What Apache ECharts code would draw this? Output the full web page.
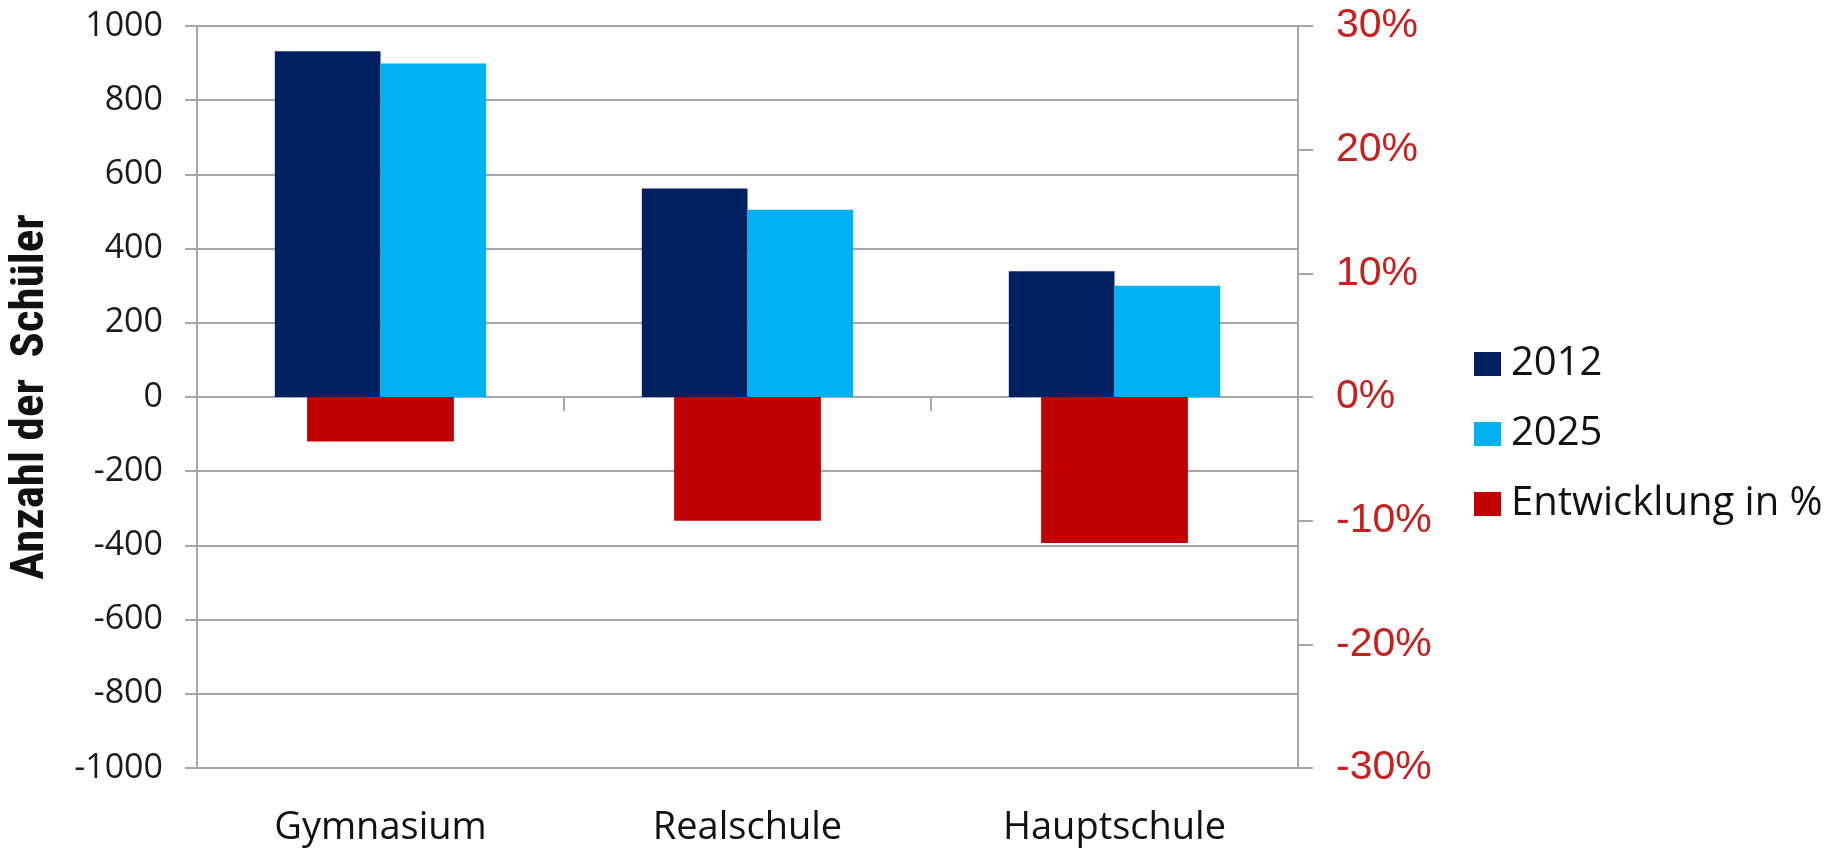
<!DOCTYPE html>
<html>
<head>
<meta charset="utf-8">
<script src="https://cdn.jsdelivr.net/npm/echarts@6/dist/echarts.min.js"></script>
<style>
  html, body { margin: 0; padding: 0; background: #fff; }
  #chart { width: 1839px; height: 849px; }
</style>
</head>
<body>
<div id="chart"></div>
<script>
  // Schularten (Kategorien)
  const categories = ['Gymnasium', 'Realschule', 'Hauptschule'];
  // Anzahl der Schüler
  const schueler2012 = [932, 562, 339];
  const schueler2025 = [899, 505, 300];
  // Entwicklung in % (rechte Achse)
  const entwicklung = [-3.6, -10.0, -11.8];

  const gridColor = '#a6a6a9';
  const textFont = 'Open Sans';

  const myChart = echarts.init(document.getElementById('chart'));
  const option = {
    backgroundColor: '#ffffff',
    animation: false,
    grid: {
      left: 195,
      right: 541,
      top: 26,
      bottom: 81,
      containLabel: false
    },
    legend: {
      orient: 'vertical',
      left: 1469,
      top: 339,
      icon: 'rect',
      itemWidth: 27,
      itemHeight: 24,
      itemGap: 30,
      selectedMode: false,
      textStyle: {
        fontFamily: textFont,
        fontSize: 40,
        color: '#111',
        padding: [0, 0, 0, 5]
      },
      data: ['2012', '2025', 'Entwicklung in %']
    },
    xAxis: [
      {
        // Achse an der Nulllinie: nur Linie und Striche
        type: 'category',
        data: categories,
        axisLine: { onZero: true, lineStyle: { color: gridColor, width: 2 } },
        axisTick: { show: true, length: 14, lineStyle: { color: gridColor, width: 2 } },
        axisLabel: { show: false }
      },
      {
        // Beschriftung unten
        type: 'category',
        data: categories,
        position: 'bottom',
        axisLine: { show: false, onZero: false },
        axisTick: { show: false },
        axisLabel: {
          margin: 41,
          fontFamily: textFont,
          fontSize: 38,
          color: '#111'
        }
      }
    ],
    yAxis: [
      {
        type: 'value',
        min: -1000,
        max: 1000,
        interval: 200,
        name: 'Anzahl der  Schüler',
        nameLocation: 'middle',
        nameRotate: 90,
        nameGap: 142,
        nameTextStyle: {
          fontFamily: 'Roboto Condensed, Roboto',
          fontWeight: 'bold',
          fontSize: 47,
          color: '#111'
        },
        axisLine: { show: true, lineStyle: { color: gridColor, width: 2 } },
        axisTick: { show: true, length: 12, lineStyle: { color: gridColor, width: 2 } },
        splitLine: { show: true, lineStyle: { color: gridColor, width: 2 } },
        axisLabel: {
          margin: 34,
          fontFamily: textFont,
          fontSize: 34,
          color: '#1a1a1a',
          formatter: function (v) { return String(v); }
        }
      },
      {
        type: 'value',
        min: -30,
        max: 30,
        interval: 10,
        position: 'right',
        axisLine: { show: true, lineStyle: { color: gridColor, width: 2 } },
        axisTick: { show: true, length: 15, lineStyle: { color: gridColor, width: 2 } },
        splitLine: { show: false },
        axisLabel: {
          margin: 38,
          fontFamily: 'Liberation Sans',
          fontSize: 41,
          color: '#c8201e',
          formatter: '{value}%'
        }
      }
    ],
    series: [
      {
        name: '2012',
        type: 'bar',
        xAxisIndex: 0,
        yAxisIndex: 0,
        data: schueler2012,
        barWidth: '28.8%',
        barGap: '0%',
        itemStyle: { color: '#002060' }
      },
      {
        name: '2025',
        type: 'bar',
        xAxisIndex: 0,
        yAxisIndex: 0,
        data: schueler2025,
        barWidth: '28.8%',
        barGap: '0%',
        itemStyle: { color: '#00b0f0' }
      },
      {
        name: 'Entwicklung in %',
        type: 'bar',
        xAxisIndex: 1,
        yAxisIndex: 1,
        data: entwicklung,
        barWidth: '40%',
        itemStyle: { color: '#c00000' }
      }
    ]
  };
  myChart.setOption(option);
</script>
</body>
</html>
